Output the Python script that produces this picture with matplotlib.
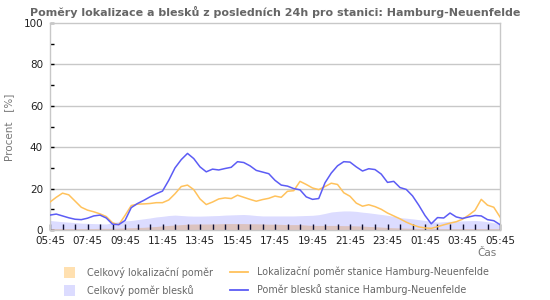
import numpy as np
import matplotlib
matplotlib.use("Agg")
import matplotlib.pyplot as plt
from matplotlib.patches import Rectangle
from matplotlib.lines import Line2D

# hours after 05:45, sampled every 20 minutes
step_minutes = 20
tick_labels = ["05:45", "07:45", "09:45", "11:45", "13:45", "15:45", "17:45",
               "19:45", "21:45", "23:45", "01:45", "03:45", "05:45"]

station_loc = [13.5, 15.8, 17.8, 17.0, 14.0, 11.0, 9.6, 8.8, 7.8, 6.5, 3.5, 2.5,
               7.0, 11.8, 12.5, 12.6, 12.8, 13.2, 13.2, 14.5, 17.5, 21.0, 21.7, 19.5,
               15.0, 12.3, 13.5, 15.0, 15.5, 15.2, 16.8, 15.8, 14.8, 13.9, 14.7, 15.3,
               16.4, 15.8, 18.7, 19.0, 23.5, 22.0, 20.3, 19.5, 21.0, 22.6, 22.0, 18.0,
               16.3, 13.0, 11.5, 12.2, 11.3, 10.0, 8.2, 6.8, 5.4, 3.8, 2.5, 1.5,
               1.0, 0.8, 1.6, 2.5, 3.3, 4.0, 5.2, 7.2, 9.5, 14.8, 12.0, 11.0, 6.3]

station_flash = [7.2, 7.7, 6.8, 5.9, 5.2, 5.0, 5.7, 6.8, 7.2, 5.8, 2.8, 2.6,
                 4.6, 10.8, 12.8, 14.3, 16.0, 17.5, 18.8, 24.0, 30.0, 34.0, 37.0, 34.5,
                 30.5, 28.1, 29.4, 29.0, 29.7, 30.3, 33.0, 32.6, 31.0, 28.8, 28.0, 27.2,
                 24.0, 21.7, 21.2, 20.0, 19.4, 16.0, 14.8, 15.2, 22.8, 27.5, 31.0, 33.0,
                 32.8, 30.5, 28.5, 29.6, 29.2, 27.0, 23.0, 23.5, 20.5, 19.6, 16.5, 12.0,
                 7.0, 3.0, 6.0, 5.8, 8.2, 6.3, 5.6, 6.3, 7.0, 6.8, 5.0, 4.5, 2.6]

total_flash = [4.6, 4.3, 4.0, 3.8, 3.6, 3.3, 3.2, 3.1, 3.0, 2.9, 3.5, 4.1,
               4.4, 4.6, 5.0, 5.4, 5.8, 6.3, 6.6, 7.0, 7.2, 7.0, 6.8, 6.7,
               6.7, 6.8, 6.9, 7.0, 7.2, 7.3, 7.4, 7.5, 7.3, 7.0, 6.8, 6.8,
               6.8, 6.8, 6.8, 6.8, 6.9, 7.0, 7.1, 7.4, 8.0, 8.7, 9.0, 9.2,
               9.2, 9.0, 8.6, 8.3, 7.9, 7.5, 7.1, 6.6, 6.0, 5.7, 5.4, 5.0,
               4.6, 4.1, 3.8, 4.0, 4.2, 4.3, 4.4, 4.5, 4.6, 4.4, 4.0, 3.5, 2.9]

total_loc = [0.7, 0.7, 0.7, 0.7, 0.7, 0.7, 0.7, 0.7, 0.8, 0.8, 0.8, 0.9,
             1.0, 1.1, 1.2, 1.3, 1.5, 1.7, 2.0, 2.2, 2.4, 2.6, 2.8, 2.9,
             2.9, 2.9, 2.9, 3.0, 3.1, 3.1, 3.1, 3.1, 3.0, 3.0, 2.9, 2.8,
             2.8, 2.7, 2.6, 2.6, 2.6, 2.4, 2.2, 2.2, 2.2, 2.2, 2.2, 2.1,
             2.1, 2.0, 1.9, 1.7, 1.6, 1.4, 1.2, 1.1, 1.0, 0.9, 0.8, 0.7,
             0.7, 0.7, 0.7, 0.7, 0.7, 0.7, 0.7, 0.7, 0.7, 0.7, 0.7, 0.7, 0.7]

title = "Poměry lokalizace a blesků z posledních 24h pro stanici: Hamburg-Neuenfelde"
legend_labels = ["Celkový lokalizační poměr", "Lokalizační poměr stanice Hamburg-Neuenfelde",
                 "Celkový poměr blesků", "Poměr blesků stanice Hamburg-Neuenfelde"]

hours = np.arange(len(station_loc)) * step_minutes / 60.0

W, H = 550, 300
fig = plt.figure(figsize=(W / 100, H / 100), dpi=100)
ax = fig.add_axes([50 / W, 1 - 230 / H, 450 / W, 207 / H])

c_orange_fill = "#ffe0b0"
c_lav = (80 / 255, 80 / 255, 1.0, 0.2)
c_lav_legend = "#dcdcff"
c_orange_line = "#ffc25c"
c_blue_line = "#5c5cf5"
grid_c = "#c8c8c8"
text_c = "#666666"

ax.fill_between(hours, 0, total_loc, color=c_orange_fill, lw=0, zorder=1)
ax.fill_between(hours, 0, total_flash, color=c_lav, lw=0, zorder=2)
ax.plot(hours, station_loc, color=c_orange_line, lw=1.1, zorder=4)
ax.plot(hours, station_flash, color=c_blue_line, lw=1.1, zorder=5)

ax.set_xlim(0, 24)
ax.set_ylim(0, 100)
for y in [20, 40, 60, 80]:
    ax.axhline(y, color=grid_c, lw=1, zorder=0)
for s in ax.spines.values():
    s.set_color(grid_c)
    s.set_linewidth(1)

ax.set_yticks([0, 20, 40, 60, 80, 100])
ax.set_yticks([10, 30, 50, 70, 90], minor=True)
ax.set_xticks(np.arange(0, 25, 2))
ax.set_xticklabels(tick_labels)
ax.set_xticks(np.arange(0, 24.01, 2 / 3), minor=True)
ax.tick_params(axis="both", which="both", direction="in", color="black", width=1)
ax.tick_params(axis="y", which="both", length=3, labelsize=7.5, labelcolor="#222222", pad=5)
ax.tick_params(axis="x", which="both", length=4, labelsize=7.5, labelcolor="#222222", pad=4.5)

fig.text(275 / W, 1 - 12 / H, title, ha="center", va="center", fontsize=8.0,
         fontweight="bold", color=text_c)
fig.text(9 / W, 1 - 127 / H, "Procent   [%]", rotation=90, ha="center", va="center",
         fontsize=7.5, color="#777777")
fig.text(497 / W, 1 - 253 / H, "Čas", ha="right", va="center", fontsize=7.5, color="#777777")

# legend, laid out in two rows of two entries
rows_y = [272, 290]
fills = [c_orange_fill, c_lav_legend]
lines = [c_orange_line, c_blue_line]
for r, yy in enumerate(rows_y):
    fig.add_artist(Rectangle((64 / W, 1 - (yy + 5.5) / H), 11 / W, 11 / H,
                             transform=fig.transFigure, facecolor=fills[r], edgecolor="none"))
    fig.text(87 / W, 1 - yy / H, legend_labels[2 * r], ha="left", va="center",
             fontsize=6.9, color=text_c)
    fig.add_artist(Line2D([230 / W, 248 / W], [1 - yy / H, 1 - yy / H],
                          transform=fig.transFigure, color=lines[r], lw=1.3))
    fig.text(257 / W, 1 - yy / H, legend_labels[2 * r + 1], ha="left", va="center",
             fontsize=6.9, color=text_c)

fig.savefig("out.png", dpi=100)
